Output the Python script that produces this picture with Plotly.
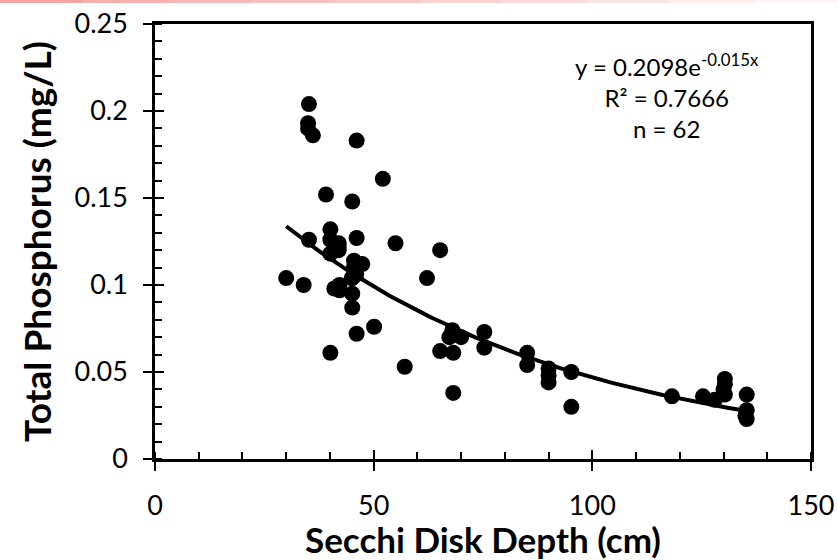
import numpy as np
import plotly.graph_objects as go

secchi_cm = [35.2, 35.0, 35.0, 36.1, 46.1, 52.1, 39.1, 45.1, 35.2, 40.1,
             40.1, 42.0, 40.1, 42.0, 46.1, 55.0, 45.5, 47.4, 45.1, 30.0,
             34.0, 42.2, 42.2, 45.1, 45.1, 46.1, 50.1, 40.1, 57.1, 65.2,
             62.2, 68.0, 67.3, 70.0, 75.3, 75.3, 65.2, 68.2, 68.2, 85.1,
             85.1, 90.0, 90.0, 90.0, 95.2, 95.2, 118.2, 125.3, 128.0, 130.3,
             130.3, 130.3, 135.3, 135.3, 135.3, 45.5, 42.0, 46.0, 130.0, 135.0,
             45.0, 41.0]
total_p = [0.204, 0.193, 0.190, 0.186, 0.183, 0.161, 0.152, 0.148, 0.126, 0.132,
           0.126, 0.124, 0.118, 0.120, 0.127, 0.124, 0.114, 0.112, 0.104, 0.104,
           0.100, 0.100, 0.097, 0.095, 0.087, 0.072, 0.076, 0.061, 0.053, 0.120,
           0.104, 0.074, 0.070, 0.070, 0.073, 0.064, 0.062, 0.061, 0.038, 0.061,
           0.054, 0.052, 0.048, 0.044, 0.050, 0.030, 0.036, 0.036, 0.034, 0.046,
           0.043, 0.037, 0.037, 0.028, 0.023, 0.110, 0.122, 0.106, 0.040, 0.025,
           0.104, 0.098]

fit_a = 0.2098
fit_b = -0.015
fit_x = np.linspace(30, 135, 120)
fit_y = fit_a * np.exp(fit_b * fit_x)

x_ticks = [0, 50, 100, 150]
y_ticks = [0, 0.05, 0.1, 0.15, 0.2, 0.25]
y_tick_text = ["0", "0.05", "0.1", "0.15", "0.2", "0.25"]

FONT = "Lato, 'Open Sans', sans-serif"

fig = go.Figure()
fig.add_trace(go.Scatter(x=secchi_cm, y=total_p, mode="markers",
                         marker=dict(color="black", size=16, line=dict(width=0)),
                         showlegend=False, hoverinfo="x+y"))
fig.add_trace(go.Scatter(x=fit_x, y=fit_y, mode="lines",
                         line=dict(color="black", width=4),
                         showlegend=False, hoverinfo="skip"))
# inside portion of the crossing major ticks
fig.add_trace(go.Scatter(x=[None], y=[None], xaxis="x2", yaxis="y2", showlegend=False))

axis_common = dict(showgrid=False, zeroline=False, showline=True, linecolor="black",
                   linewidth=2.5, mirror=True, tickcolor="black", tickwidth=1.5,
                   automargin=False)

fig.update_layout(
    width=838, height=560,
    margin=dict(l=155, r=27, t=24, b=101),
    paper_bgcolor="white", plot_bgcolor="white",
    font=dict(family=FONT, color="black", size=27),
    xaxis=dict(range=[0, 150], tickvals=x_ticks, ticks="outside", ticklen=9,
               ticklabelstandoff=12,
               minor=dict(dtick=10, ticks="inside", ticklen=7, tickcolor="black", tickwidth=1.5),
               title=dict(text="<b>Secchi Disk Depth (cm)</b>", font=dict(size=35, family=FONT),
                          standoff=6),
               tickfont=dict(size=27, family=FONT), **axis_common),
    yaxis=dict(range=[0, 0.25], tickvals=y_ticks, ticktext=y_tick_text, ticks="outside",
               ticklen=9, ticklabelstandoff=10,
               minor=dict(dtick=0.01, ticks="inside", ticklen=7, tickcolor="black", tickwidth=1.5),
               title=dict(text="<b>Total Phosphorus (mg/L)</b>", font=dict(size=37, family=FONT),
                          standoff=12),
               tickfont=dict(size=27, family=FONT), **axis_common),
    xaxis2=dict(range=[0, 150], overlaying="x", anchor="y2", side="bottom",
                tickvals=x_ticks, ticks="inside", ticklen=9, tickcolor="black", tickwidth=1.5,
                showticklabels=False, showgrid=False, zeroline=False, showline=False),
    yaxis2=dict(range=[0, 0.25], overlaying="y", anchor="x2", side="left",
                tickvals=y_ticks, ticks="inside", ticklen=9, tickcolor="black", tickwidth=1.5,
                showticklabels=False, showgrid=False, zeroline=False, showline=False),
)

fig.add_annotation(xref="x", yref="y", x=117, y=0.2085, xanchor="center", yanchor="middle",
                   showarrow=False, align="center",
                   text="y = 0.2098e<sup>-0.015x</sup><br>R² = 0.7666<br>n = 62",
                   font=dict(size=24, family=FONT, color="black"))

# faint pink band along the top edge
n_seg = 10
for i in range(n_seg):
    op = 0.55 * (1 - i / n_seg)
    fig.add_shape(type="rect", xref="paper", yref="paper",
                  x0=-155/656 + i * (838/656) / n_seg, x1=-155/656 + (i + 1) * (838/656) / n_seg,
                  y0=1 + 21/435, y1=1 + 24/435,
                  fillcolor=f"rgba(235,90,90,{op:.3f})", line=dict(width=0), layer="above")

fig.write_html("out.html")
